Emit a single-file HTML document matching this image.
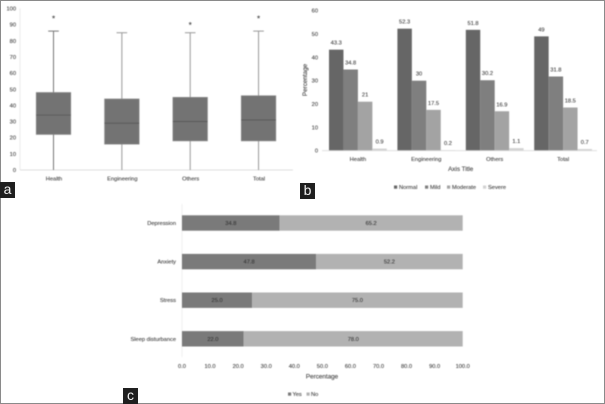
<!DOCTYPE html>
<html lang="en">
<head>
<meta charset="utf-8">
<title>Box plot and bar charts of mental health scores</title>
<style>
html,body{margin:0;padding:0;background:#fff;}
body{width:605px;height:404px;overflow:hidden;position:relative;}
#figure{position:absolute;left:0;top:0;width:605px;height:404px;display:block;filter:blur(0.4px);}
text{font-family:"Liberation Sans",sans-serif;font-size:5.7px;fill:#3a3a3a;stroke:#3a3a3a;stroke-width:0.08px;}
text.title{font-size:6.3px;}
.badge{position:absolute;background:#1f1f1f;color:#f2f2f2;font-family:"Liberation Sans",sans-serif;font-size:14px;line-height:15px;text-align:center;width:15px;height:16px;}
.frame{position:absolute;left:0;top:0;width:603px;height:402px;border:1px solid #8a8a8a;}
</style>
</head>
<body>
<svg id="figure" width="605" height="404" viewBox="0 0 605 404" xmlns="http://www.w3.org/2000/svg">
  <g id="panel-a"></g>
  <g id="panel-b"></g>
  <g id="panel-c"></g>
</svg>
<div class="frame"></div>
<div class="badge" style="left:0px;top:182px;">a</div>
<div class="badge" style="left:300px;top:183px;">b</div>
<div class="badge" style="left:123px;top:388px;">c</div>
<script>
// Panel a data
const boxCategories = ['Health', 'Engineering', 'Others', 'Total'];
const boxMin = [0, 0, 0, 0];
const boxQ1 = [22, 16, 18, 18];
const boxMedian = [34, 29, 30, 31];
const boxQ3 = [48, 44, 45, 46];
const boxMax = [86, 85, 85, 86];
const boxOutlier = [94, null, 90, 94];
const boxTicks = [0, 10, 20, 30, 40, 50, 60, 70, 80, 90, 100];

// Panel b data
const severityCategories = ['Health', 'Engineering', 'Others', 'Total'];
const severityNames = ['Normal', 'Mild', 'Moderate', 'Severe'];
const severityNormal = [43.3, 52.3, 51.8, 49];
const severityMild = [34.8, 30, 30.2, 31.8];
const severityModerate = [21, 17.5, 16.9, 18.5];
const severitySevere = [0.9, 0.2, 1.1, 0.7];
const severityTicks = [0, 10, 20, 30, 40, 50, 60];

// Panel c data
const outcomeCategories = ['Depression', 'Anxiety', 'Stress', 'Sleep disturbance'];
const outcomeYes = [34.8, 47.8, 25.0, 22.0];
const outcomeNo = [65.2, 52.2, 75.0, 78.0];
const outcomeTicks = [0, 10, 20, 30, 40, 50, 60, 70, 80, 90, 100];

const NS = 'http://www.w3.org/2000/svg';
function make(parent, tag, attrs, content) {
  const node = document.createElementNS(NS, tag);
  for (const key in attrs) node.setAttribute(key, attrs[key]);
  if (content !== undefined) node.textContent = content;
  parent.appendChild(node);
  return node;
}
let el;

// ---------- Panel a ----------
const panelA = document.getElementById('panel-a');
const yA = v => 170 - v * 1.615;
const xA = i => 53.5 + i * 68.35;

boxTicks.forEach(t => {
  el = make(panelA, 'text', {x: 16, y: yA(t) + 2, 'text-anchor': 'end'}, String(t));
  
  
});
el = make(panelA, 'line', {x1: 20, x2: 293, y1: yA(0), y2: yA(0), stroke: '#d4d4d4', 'stroke-width': 0.8});


el = make(panelA, 'line', {x1: 20, x2: 20, y1: yA(100), y2: yA(0), stroke: '#e6e6e6', 'stroke-width': 0.8});



boxCategories.forEach((name, i) => {
  const cx = xA(i);
  const whiskerColor = i === 0 ? '#777' : '#999';
  el = make(panelA, 'line', {x1: cx, x2: cx, y1: yA(boxMax[i]), y2: yA(boxMin[i]), stroke: whiskerColor, 'stroke-width': 1});
  
  
  el = make(panelA, 'line', {x1: cx - 5.3, x2: cx + 5.3, y1: yA(boxMax[i]), y2: yA(boxMax[i]), stroke: whiskerColor, 'stroke-width': 1});
  
  
  el = make(panelA, 'rect', {x: cx - 17.3, y: yA(boxQ3[i]), width: 34.6, height: yA(boxQ1[i]) - yA(boxQ3[i]), fill: '#737373', stroke: '#8c8c8c', 'stroke-width': 0.6});
  
  
  el = make(panelA, 'line', {x1: cx - 17.3, x2: cx + 17.3, y1: yA(boxMedian[i]), y2: yA(boxMedian[i]), stroke: '#565656', 'stroke-width': 0.8});
  
  
  if (boxOutlier[i] !== null) {
    el = make(panelA, 'text', {x: cx, y: yA(boxOutlier[i]) + 3.4, 'text-anchor': 'middle', style: 'font-size:8px;fill:#333'}, '*');
    
    
  }
  el = make(panelA, 'text', {x: cx + 0.5, y: 180.7, 'text-anchor': 'middle'}, name);
  
  
});

// ---------- Panel b ----------
const panelB = document.getElementById('panel-b');
const yB = v => 150.7 - v * (140 / 60);
const xB = (g, s) => 329 + g * 68.4 + s * 14.45;
const severitySeries = [severityNormal, severityMild, severityModerate, severitySevere];
const severityColors = ['#666666', '#7f7f7f', '#a3a3a3', '#d2d2d2'];

severityTicks.forEach(t => {
  el = make(panelB, 'text', {x: 318, y: yB(t) + 2, 'text-anchor': 'end'}, String(t));
  
  
});
severitySeries.forEach((series, s) => {
  series.forEach((v, g) => {
    el = make(panelB, 'rect', {x: xB(g, s), y: yB(v), width: 14.45, height: yB(0) - yB(v), fill: severityColors[s]});
    
    
    el = make(panelB, 'text', {x: xB(g, s) + 7.2, y: yB(v) - 5, 'text-anchor': 'middle'}, String(v));
    
    
  });
});
el = make(panelB, 'line', {x1: 322, x2: 597, y1: yB(0), y2: yB(0), stroke: '#dcdcdc', 'stroke-width': 0.8});


severityCategories.forEach((name, g) => {
  el = make(panelB, 'text', {x: xB(g, 2), y: 161, 'text-anchor': 'middle'}, name);
  
  
});
el = make(panelB, 'text', {x: 460.7, y: 171, 'text-anchor': 'middle', class: 'title'}, 'Axis Title');


el = make(panelB, 'text', {x: 307, y: 80, 'text-anchor': 'middle', class: 'title', transform: 'rotate(-90 307 80)'}, 'Percentage');



const legendB = make(panelB, 'g', {});


let legendX = 394;
const legendWidths = [31, 22, 36, 24];
severityNames.forEach((name, s) => {
  el = make(legendB, 'rect', {x: legendX, y: 185.5, width: 3.2, height: 3.2, fill: severityColors[s]});
  
  
  el = make(legendB, 'text', {x: legendX + 5, y: 189.2}, name);
  
  
  legendX += legendWidths[s];
});

// ---------- Panel c ----------
const panelC = document.getElementById('panel-c');
const xC = v => 182 + v * 2.807;
const yC = i => 223 + i * 38.6;
const barH = 15.4;

el = make(panelC, 'line', {x1: 182, x2: 182, y1: 204, y2: 357, stroke: '#ececec', 'stroke-width': 0.8});


outcomeCategories.forEach((name, i) => {
  el = make(panelC, 'rect', {x: xC(0), y: yC(i) - barH / 2, width: xC(outcomeYes[i]) - xC(0), height: barH, fill: '#7a7a7a'});
  
  
  el = make(panelC, 'rect', {x: xC(outcomeYes[i]), y: yC(i) - barH / 2, width: xC(outcomeYes[i] + outcomeNo[i]) - xC(outcomeYes[i]), height: barH, fill: '#b2b2b2'});
  
  
  el = make(panelC, 'text', {x: xC(outcomeYes[i] / 2), y: yC(i) + 2, 'text-anchor': 'middle', style: 'fill:#333'}, outcomeYes[i].toFixed(1));
  
  
  el = make(panelC, 'text', {x: xC(outcomeYes[i] + outcomeNo[i] / 2), y: yC(i) + 2, 'text-anchor': 'middle', style: 'fill:#333'}, outcomeNo[i].toFixed(1));
  
  
  el = make(panelC, 'text', {x: 176, y: yC(i) + 2, 'text-anchor': 'end'}, name);
  
  
});
outcomeTicks.forEach(t => {
  el = make(panelC, 'text', {x: xC(t), y: 368, 'text-anchor': 'middle'}, t.toFixed(1));
  
  
});
el = make(panelC, 'text', {x: 322, y: 378.5, 'text-anchor': 'middle', class: 'title'}, 'Percentage');



const legendC = make(panelC, 'g', {});


el = make(legendC, 'rect', {x: 288, y: 392.5, width: 3.2, height: 3.2, fill: '#7a7a7a'});


el = make(legendC, 'text', {x: 292.5, y: 396.2}, 'Yes');


el = make(legendC, 'rect', {x: 306.5, y: 392.5, width: 3.2, height: 3.2, fill: '#b2b2b2'});


el = make(legendC, 'text', {x: 311, y: 396.2}, 'No');


</script>
</body>
</html>
